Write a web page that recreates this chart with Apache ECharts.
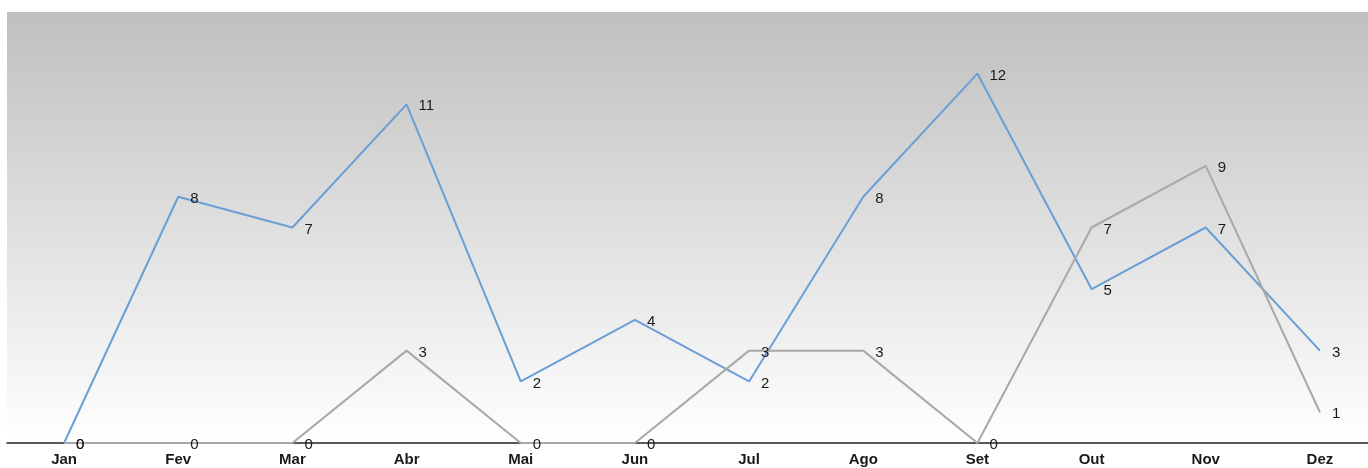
<!DOCTYPE html>
<html>
<head>
<meta charset="utf-8">
<script src="https://cdn.jsdelivr.net/npm/echarts@6/dist/echarts.min.js"></script>
<style>
  html, body { margin: 0; padding: 0; background: #ffffff; overflow: hidden; }
  #chart { width: 1378px; height: 468px; }
</style>
</head>
<body>
<div id="chart"></div>
<script>
// Monthly counts for two series
var months = ['Jan', 'Fev', 'Mar', 'Abr', 'Mai', 'Jun', 'Jul', 'Ago', 'Set', 'Out', 'Nov', 'Dez'];
var seriesBlue = [0, 8, 7, 11, 2, 4, 2, 8, 12, 5, 7, 3];
var seriesGray = [0, 0, 0, 3, 0, 0, 3, 3, 0, 7, 9, 1];

var chart = echarts.init(document.getElementById('chart'), null, { renderer: 'canvas' });

function lineSeries(data, color) {
  return {
    type: 'line',
    data: data,
    symbol: 'circle',
    symbolSize: 0,
    lineStyle: { color: color, width: 2 },
    itemStyle: { color: color },
    label: {
      show: true,
      position: 'right',
      distance: 12,
      offset: [0, 2],
      color: '#1a1a1a',
      fontFamily: '"Liberation Sans", Arial, sans-serif',
      fontSize: 15
    },
    emphasis: { disabled: true },
    animation: false
  };
}

chart.setOption({
  animation: false,
  grid: {
    left: 7,
    top: 12,
    right: 1,
    bottom: 25,
    show: true,
    borderWidth: 0,
    backgroundColor: {
      type: 'linear', x: 0, y: 0, x2: 0, y2: 1,
      colorStops: [
        { offset: 0, color: '#bfbfbf' },
        { offset: 1, color: '#ffffff' }
      ]
    }
  },
  xAxis: {
    type: 'category',
    data: months,
    boundaryGap: true,
    axisLine: { show: true, lineStyle: { color: '#222222', width: 1.5 } },
    axisTick: { show: false },
    axisLabel: {
      margin: 9,
      color: '#1a1a1a',
      fontWeight: 'bold',
      fontSize: 15,
      fontFamily: '"Liberation Sans", Arial, sans-serif'
    },
    splitLine: { show: false }
  },
  yAxis: {
    type: 'value',
    min: 0,
    max: 14,
    interval: 2,
    show: false,
    splitLine: { show: false }
  },
  series: [
    lineSeries(seriesBlue, '#6a9fd6'),
    lineSeries(seriesGray, '#a8a8a8')
  ]
});
</script>
</body>
</html>
